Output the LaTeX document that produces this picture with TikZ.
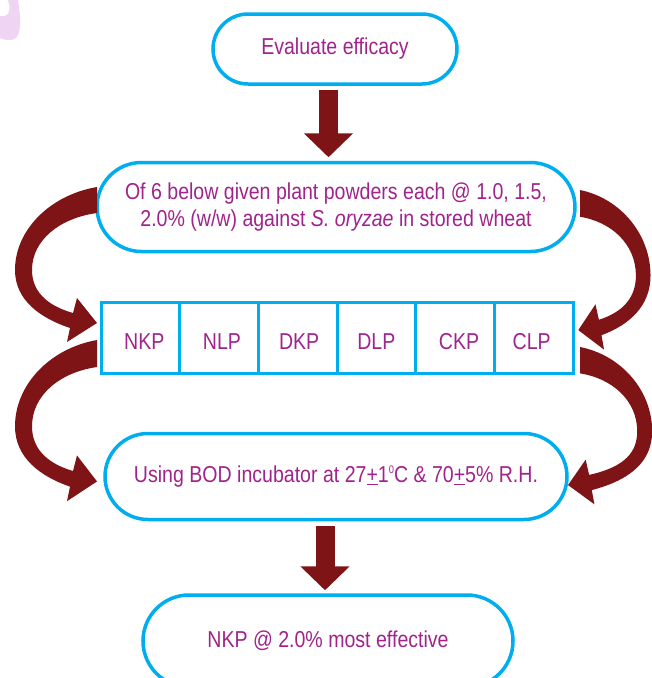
\documentclass[tikz,border=0pt]{standalone}
\usepackage{fontspec}
\setmainfont{Liberation Sans}[FakeStretch=0.85]
\usetikzlibrary{shapes.misc,arrows.meta}
\definecolor{txtpurple}{RGB}{160,36,140}
\definecolor{boxblue}{RGB}{0,174,239}
\definecolor{arrred}{RGB}{126,20,22}
\definecolor{lav}{RGB}{239,212,243}
\newcommand\curvedarrowshape[1]{%
  \fill[arrred] (0,0) .. controls (-47,8) and (-82,43) .. (-82,83)
    .. controls (-82,113) and (-57,131) .. ({#1-27},141) -- ({#1-30},155)
    -- (#1,136) -- ({#1-20},111) -- ({#1-24},126)
    .. controls (-52,118) and (-65,103) .. (-65,83)
    .. controls (-65,53) and (-37,31) .. (0,26) -- cycle;}
\tikzset{
  pill/.style={rounded rectangle, draw=boxblue, line width=3.5pt, fill=white,
    text=txtpurple, font=\fontsize{23}{28}\selectfont, align=center, inner sep=0pt},
  cellbox/.style={rectangle, draw=boxblue, line width=3pt, fill=white,
    text=txtpurple, font=\fontsize{23}{28}\selectfont, inner sep=0pt,
    text height=24pt, text depth=0pt,
    minimum width=78.67pt, minimum height=71pt},
  bigarrow/.style={draw=arrred, line width=19pt, -{Triangle[width=48pt,length=24pt]}}
}
\begin{document}
\begin{tikzpicture}[x=1pt,y=-1pt]
\useasboundingbox (0,0) rectangle (652,678);
\clip (0,0) rectangle (652,678);
% lavender fragment
\fill[lav] (8,0) -- (18,0) .. controls (20,12) and (22,30) .. (17,37)
  .. controls (14,41) and (6,41) .. (0,38) -- (0,16)
  .. controls (4,17) and (8,15) .. (9,12) .. controls (10,8) and (9,3) .. (8,0) -- cycle;
% boxes
\node[pill, minimum width=244pt, minimum height=70pt] (b1) at (335,49) {Evaluate efficacy};
\node[pill, minimum width=478pt, minimum height=89pt] (b2) at (336,207)
  {\raisebox{-4pt}{\begin{tabular}{@{}c@{}}Of 6 below given plant powders each @ 1.0, 1.5,\\[-1pt]2.0\% (w/w) against \textit{S. oryzae} in stored wheat\end{tabular}}};
\foreach \t/\dx [count=\i] in {NKP/4,NLP/3,DKP/1.5,DLP/0,CKP/4,CLP/-2}
  \node[cellbox] (c\i) at ({101+78.67*(\i-0.5)},337.5) {\hspace*{\dx pt}\t\hspace*{-\dx pt}};
\node[pill, minimum width=462pt, minimum height=86pt] (b3) at (336,476.5)
  {Using BOD incubator at 27\underline{+}1\raisebox{9pt}{\fontsize{11}{11}\selectfont 0}C \& 70\underline{+}5\% R.H.};
\node[pill, minimum width=370pt, minimum height=92pt] (b4) at (328,641) {NKP @ 2.0\% most effective};
% straight arrows
\draw[bigarrow] ([xshift=-6.5pt,yshift=-4pt]b1.south) -- ([xshift=-7.5pt,yshift=3.5pt]b2.north);
\draw[bigarrow] ([xshift=-11pt,yshift=-5pt]b3.south) -- ([xshift=-3pt,yshift=3pt]b4.north);
% curved arrows
\begin{scope}[shift={(97,187)}]\curvedarrowshape{0}\end{scope}
\begin{scope}[shift={(97,340)},yscale=1.04]\curvedarrowshape{0}\end{scope}
\begin{scope}[shift={(580,190)},xscale=-0.86,yscale=1.03]\curvedarrowshape{2}\end{scope}
\begin{scope}[shift={(580,347)},xscale=-0.88,yscale=1.015]\curvedarrowshape{13.6}\end{scope}
\end{tikzpicture}
\end{document}
